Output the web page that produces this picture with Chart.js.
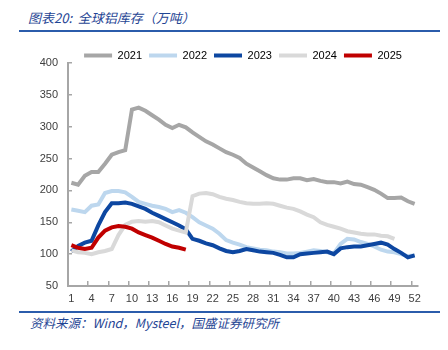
<!DOCTYPE html>
<html>
<head>
<meta charset="utf-8">
<script src="https://cdn.jsdelivr.net/npm/chart.js@4.4.1/dist/chart.umd.min.js"></script>
<style>
  body { margin: 0; width: 448px; height: 350px; background: #fff; position: relative; overflow: hidden; }
  .title { position: absolute; left: 28px; top: 8px; font: italic 13px "Noto Sans CJK SC", sans-serif; color: #1f4594; white-space: pre; }
  .rule { position: absolute; left: 19px; width: 421px; height: 2px; background: #2b5cab; }
  .source { position: absolute; left: 30px; top: 313px; font: italic 12.5px "Noto Sans CJK SC", sans-serif; color: #1f4594; white-space: nowrap; }
  #wrap { position: absolute; left: 0; top: 36px; width: 448px; height: 272px; }
</style>
</head>
<body>
<div class="title">图表20:  全球铝库存（万吨）</div>
<div class="rule" style="top:30px"></div>
<div id="wrap"><canvas id="stockChart"></canvas></div>
<div class="rule" style="top:311px"></div>
<div class="source">资料来源：Wind，Mysteel，国盛证券研究所</div>

<script>
// week numbers on the x axis
const weeks = [1, 2, 3, 4, 5, 6, 7, 8, 9, 10, 11, 12, 13, 14, 15, 16, 17, 18, 19, 20, 21, 22, 23, 24, 25, 26,
  27, 28, 29, 30, 31, 32, 33, 34, 35, 36, 37, 38, 39, 40, 41, 42, 43, 44, 45, 46, 47, 48, 49, 50, 51, 52];

const yTicks = [50, 100, 150, 200, 250, 300, 350, 400];

// global aluminium stocks, 10k tonnes
const stock2021 = [212, 209, 223, 229, 229, 242, 256, 260, 263, 327, 330, 325, 318, 311, 303, 298, 303, 299, 291, 284,
  277, 272, 266, 260, 256, 251, 242, 236, 230, 224, 219, 217, 217, 219, 219, 216, 218, 215, 213, 213,
  211, 214, 210, 209, 205, 201, 195, 188, 188, 189, 183, 179];
const stock2022 = [170, 168, 166, 176, 178, 196, 199, 199, 197, 190, 182, 179, 176, 174, 171, 166, 169, 165, 158, 150,
  145, 140, 132, 122, 118, 115, 111, 109, 107, 106, 104, 103, 101, 101, 102, 104, 106, 105, 103, 101,
  116, 124, 123, 119, 116, 112, 107, 104, 103, 100, 97, 98];
const stock2023 = [104, 113, 118, 121, 145, 166, 180, 180, 181, 179, 175, 171, 165, 160, 155, 150, 145, 139, 124, 121,
  117, 114, 109, 105, 103, 105, 108, 106, 104, 103, 102, 99, 95, 95, 100, 101, 102, 103, 104, 100,
  109, 111, 112, 112, 114, 116, 118, 115, 108, 102, 95, 98];
const stock2024 = [106, 103, 102, 100, 103, 105, 108, 130, 146, 151, 152, 151, 152, 150, 145, 140, 137, 134, 191, 195,
  196, 194, 190, 187, 185, 182, 180, 179, 179, 180, 179, 176, 173, 171, 167, 162, 158, 150, 146, 143,
  140, 136, 134, 132, 131, 131, 129, 128, 124, null, null, null];
const stock2025 = [114, 110, 108, 110, 126, 137, 142, 144, 143, 140, 134, 130, 126, 121, 116, 112, 110, 107];

const axisGray = '#a6a6a6';

Chart.defaults.font.family = '"Liberation Sans", Arial, sans-serif';
Chart.defaults.font.size = 11;
Chart.defaults.color = '#404040';

function series(label, data, color, order) {
  return {
    label: label,
    data: data,
    borderColor: color,
    backgroundColor: color,
    borderWidth: 4,
    pointRadius: 0,
    tension: 0,
    order: order // later years drawn on top
  };
}

const ctx = document.getElementById('stockChart').getContext('2d');
new Chart(ctx, {
  type: 'line',
  data: {
    labels: weeks,
    datasets: [
      series('2021', stock2021, '#a6a6a6', 5),
      series('2022', stock2022, '#bdd7ee', 4),
      series('2023', stock2023, '#0d47a1', 3),
      series('2024', stock2024, '#d9d9d9', 2),
      series('2025', stock2025, '#c00000', 1)
    ]
  },
  options: {
    responsive: true,
    maintainAspectRatio: false,
    animation: false,
    layout: { padding: { left: 28, right: 30, top: 7, bottom: 0 } },
    plugins: {
      tooltip: { enabled: false },
      legend: {
        position: 'top',
        fullSize: false,
        maxHeight: 20,
        labels: {
          boxWidth: 28,
          boxHeight: 4,
          padding: 7,
          color: '#404040',
          // keep year order and draw plain colour bars
          generateLabels: (chart) => chart.data.datasets.map((ds, i) => ({
            text: ds.label,
            fillStyle: ds.borderColor,
            strokeStyle: ds.borderColor,
            lineWidth: 0,
            hidden: false,
            datasetIndex: i
          }))
        }
      }
    },
    scales: {
      x: {
        type: 'category',
        offset: true,
        afterFit: (scale) => { scale.height = 22; },
        border: { color: axisGray, width: 2 },
        grid: {
          offset: true,
          drawOnChartArea: false,
          tickLength: -5,
          lineWidth: 1.5,
          color: (c) => (c.index % 3 === 0 ? axisGray : 'rgba(0,0,0,0)')
        },
        ticks: {
          autoSkip: false,
          maxRotation: 0,
          padding: 11,
          callback: (value, index) => (index % 3 === 0 ? weeks[index] : '')
        }
      },
      y: {
        min: yTicks[0],
        max: yTicks[yTicks.length - 1],
        afterFit: (scale) => { scale.width = 40; },
        border: { color: axisGray, width: 2 },
        grid: { drawOnChartArea: false, tickLength: -4, lineWidth: 1.5, color: axisGray },
        ticks: { stepSize: 50, padding: 14 }
      }
    }
  }
});
</script>
</body>
</html>
